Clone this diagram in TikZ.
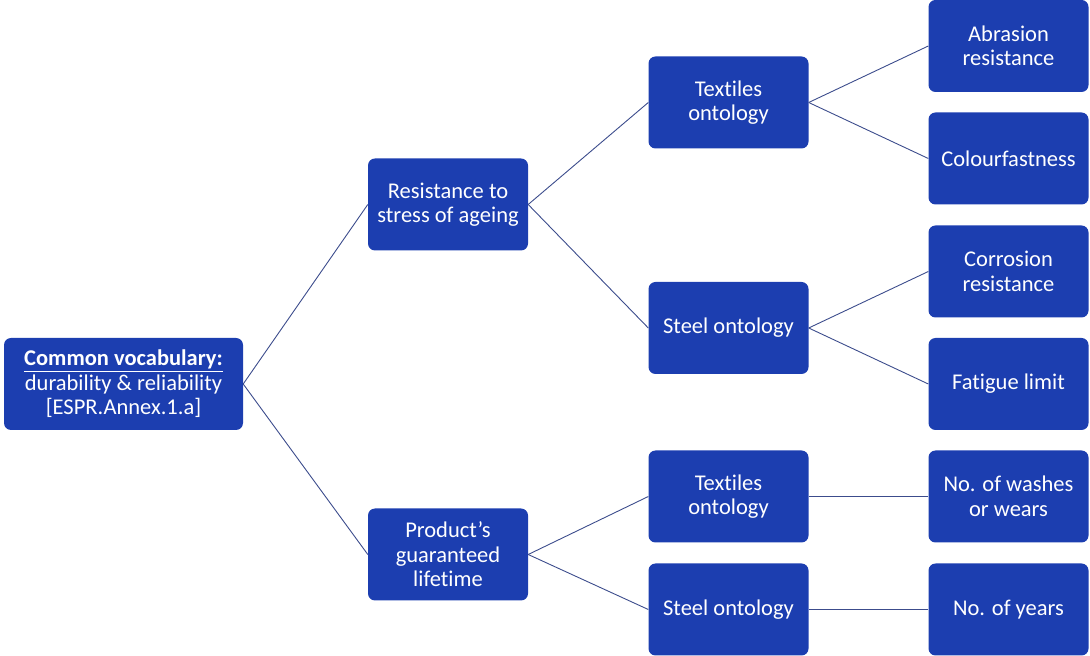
\documentclass[tikz,border=0pt]{standalone}
\usepackage{fontspec}
\setmainfont{Carlito}[Ligatures={NoCommon}]
\definecolor{boxblue}{RGB}{28,62,176}
\definecolor{linecol}{RGB}{60,76,140}
\begin{document}
\begin{tikzpicture}[x=1pt,y=1pt,
  box/.style={draw=none,fill=boxblue,rounded corners=7pt,text=white,minimum width=160pt,minimum height=92pt,align=center,inner sep=2pt,font=\fontsize{22.5}{24.5}\selectfont},
  link/.style={draw=linecol,line width=0.9pt}]
\useasboundingbox (0,0) rectangle (1090,656);
\node[box,minimum width=239pt] (root) at (123.5,272) {\textbf{\underline{Common vocabulary:}}\\durability \& reliability\\{[ESPR.Annex.1.a]}};
\node[box] (ra) at (448,451.5) {Resistance to\\stress of ageing};
\node[box] (pg) at (448,101.5) {Product’s\\guaranteed\\lifetime};
\node[box] (t1) at (728.5,553.5) {Textiles\\ontology};
\node[box] (s1) at (728.5,328) {Steel ontology};
\node[box] (t2) at (728.5,159.5) {Textiles\\ontology};
\node[box] (s2) at (728.5,46.5) {Steel ontology};
\node[box] (ab) at (1008.5,610) {Abrasion\\resistance};
\node[box] (cf) at (1008.5,497.5) {Colourfastness};
\node[box] (cr) at (1008.5,384.5) {Corrosion\\resistance};
\node[box] (fl) at (1008.5,272) {Fatigue limit};
\node[box] (nw) at (1008.5,159.5) {No. of washes\\or wears};
\node[box] (ny) at (1008.5,46.5) {No. of years};
\draw[link] (root.east) -- (ra.west);
\draw[link] (root.east) -- (pg.west);
\draw[link] (ra.east) -- (t1.west);
\draw[link] (ra.east) -- (s1.west);
\draw[link] (pg.east) -- (t2.west);
\draw[link] (pg.east) -- (s2.west);
\draw[link] (t1.east) -- (ab.west);
\draw[link] (t1.east) -- (cf.west);
\draw[link] (s1.east) -- (cr.west);
\draw[link] (s1.east) -- (fl.west);
\draw[link] (t2.east) -- (nw.west);
\draw[link] (s2.east) -- (ny.west);
\end{tikzpicture}
\end{document}
